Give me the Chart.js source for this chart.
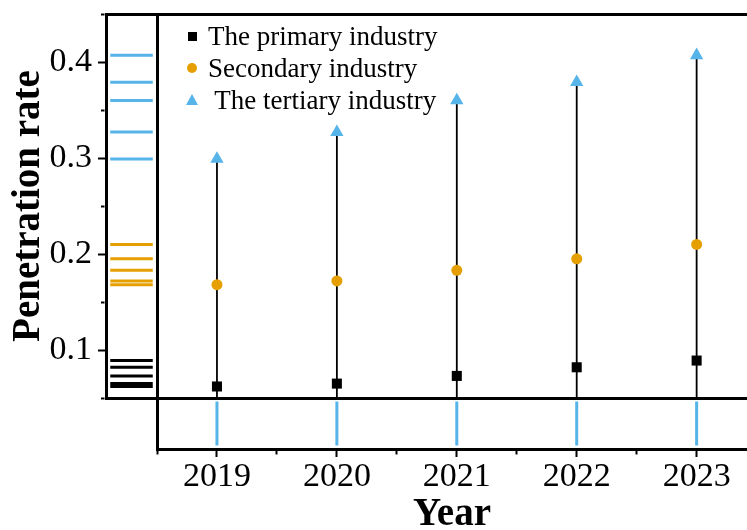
<!DOCTYPE html>
<html>
<head>
<meta charset="utf-8">
<title>Penetration rate by industry</title>
<script src="https://cdn.jsdelivr.net/npm/chart.js@4.4.1/dist/chart.umd.min.js"></script>
<style>
  body { margin: 0; background: #fff; }
  #wrap { position: relative; width: 747px; height: 530px; }
  #legend { position: absolute; left: 0; top: 0; font-family: 'Liberation Serif', serif; font-size: 27px; color: #000; }
  #legend .item { position: absolute; left: 208px; height: 32px; line-height: 32px; white-space: pre; }
  #legend .mark { position: absolute; }
</style>
</head>
<body>
<div id="wrap">
  <canvas id="chart" width="747" height="530"></canvas>
  <div id="legend"></div>
</div>
<script>
// data
const years = [2019, 2020, 2021, 2022, 2023];
const primary = [0.062, 0.065, 0.073, 0.082, 0.089];
const secondary = [0.168, 0.172, 0.183, 0.195, 0.210];
const tertiary = [0.299, 0.327, 0.360, 0.379, 0.407];
const seriesNames = ['The primary industry', 'Secondary industry', ' The tertiary industry'];
const seriesColors = ['#000000', '#E69F00', '#56B4E9'];
const yTickLabels = [0.1, 0.2, 0.3, 0.4];

// axis ranges
const yMin = 0.05, yMax = 0.45;
const xMin = 2018.5, xMax = 2023.42;

// fixed axis boxes so the side and bottom panels line up
const LEFT_W = 106, BOTTOM_H = 81;

const near = (a, b) => Math.abs(a - b) < 1e-6;
const isYMajor = v => yTickLabels.some(t => near(t, v));
const isXMajor = v => years.some(t => near(t, v));

const points = vals => years.map((x, i) => ({ x: x, y: vals[i] }));
// short horizontal strokes in the left margin panel, one per value
const rugY = vals => vals.flatMap(v => [{ x: 0, y: v }, { x: 1, y: v }, { x: 0.5, y: null }]);
// short vertical strokes in the bottom margin panel, one per year
const rugX = xs => xs.flatMap(x => [{ x: x, y: 0 }, { x: x, y: 1 }, { x: x, y: null }]);
// drop lines from the bottom of the plot up to the tertiary points
const drops = years.flatMap((x, i) => [{ x: x, y: yMin }, { x: x, y: tertiary[i] }, { x: x, y: null }]);

const lineSet = (data, color, width, xAxisID, yAxisID) => ({
  data: data, xAxisID: xAxisID, yAxisID: yAxisID,
  showLine: true, spanGaps: false, pointRadius: 0,
  borderColor: color, borderWidth: width, borderCapStyle: 'butt', order: 1
});

const markerSet = (i, vals, style, radius) => ({
  label: seriesNames[i], data: points(vals), xAxisID: 'x', yAxisID: 'y',
  pointStyle: style, pointRadius: radius,
  backgroundColor: seriesColors[i], borderWidth: 0, order: 0
});

Chart.defaults.font.family = "'Liberation Serif', serif";
Chart.defaults.color = '#000';

new Chart(document.getElementById('chart'), {
  type: 'scatter',
  data: {
    datasets: [
      markerSet(0, primary, 'rect', 7.1),
      markerSet(1, secondary, 'circle', 5.5),
      markerSet(2, tertiary, 'triangle', 7.7),
      lineSet(drops, '#000', 1.8, 'x', 'y'),
      lineSet(rugY(primary), seriesColors[0], 3, 'xRug', 'y'),
      lineSet(rugY(secondary), seriesColors[1], 3, 'xRug', 'y'),
      lineSet(rugY(tertiary), seriesColors[2], 3, 'xRug', 'y'),
      lineSet(rugX(years), seriesColors[2], 3, 'x', 'yRug')
    ]
  },
  options: {
    responsive: false,
    animation: false,
    devicePixelRatio: 1,
    events: [],
    layout: { autoPadding: false, padding: { top: 14, left: 0, right: 0, bottom: 0 } },
    plugins: { legend: { display: false }, tooltip: { enabled: false } },
    scales: {
      xRug: {
        type: 'linear', position: 'bottom', stack: 'h', stackWeight: 51, weight: 0,
        min: -0.1, max: 1.1, display: false,
        afterFit: s => { s.height = BOTTOM_H; }
      },
      x: {
        type: 'linear', position: 'bottom', stack: 'h', stackWeight: 590, weight: 1,
        min: xMin, max: xMax,
        afterFit: s => { s.height = BOTTOM_H; s.paddingLeft = 0; s.paddingRight = 0; },
        border: { display: true, color: '#000', width: 3 },
        grid: {
          color: c => (c.tick && near(c.tick.value, xMin)) ? '#000' : 'rgba(0,0,0,0)',
          lineWidth: 3,
          tickLength: 8,
          tickWidth: 2,
          tickColor: '#000',
          tickBorderDash: c => isXMajor(c.tick.value) ? [] : [3.5, 100],
          tickBorderDashOffset: 0
        },
        ticks: {
          stepSize: 0.5, includeBounds: false, autoSkip: false, maxRotation: 0,
          padding: 3, font: { size: 34, lineHeight: 1 },
          callback: v => isXMajor(v) ? String(Math.round(v)) : ''
        },
        title: {
          display: true, text: 'Year',
          font: { size: 39, weight: 'bold', lineHeight: 0.8 },
          padding: { top: 0, bottom: -1 }
        }
      },
      yRug: {
        type: 'linear', position: 'left', stack: 'v', stackWeight: 51, weight: 0,
        min: -0.08, max: 1.08, display: false,
        afterFit: s => { s.width = LEFT_W; }
      },
      y: {
        type: 'linear', position: 'left', stack: 'v', stackWeight: 384, weight: 1,
        min: yMin, max: yMax,
        afterFit: s => { s.width = LEFT_W; s.paddingTop = 0; s.paddingBottom = 0; },
        border: { display: true, color: '#000', width: 3 },
        grid: {
          color: c => (c.tick && (near(c.tick.value, yMin) || near(c.tick.value, yMax))) ? '#000' : 'rgba(0,0,0,0)',
          lineWidth: 3,
          tickLength: 8,
          tickWidth: 2,
          tickColor: '#000',
          tickBorderDash: c => isYMajor(c.tick.value) ? [] : [3.5, 3],
          tickBorderDashOffset: c => isYMajor(c.tick.value) ? 0 : 3.5
        },
        ticks: {
          stepSize: 0.05, includeBounds: false, autoSkip: false,
          padding: 6, font: { size: 34 },
          callback: v => isYMajor(v) ? v.toFixed(1) : ''
        },
        title: {
          display: true, text: 'Penetration rate',
          font: { size: 39, weight: 'bold', lineHeight: 0.8 },
          padding: { top: 13, bottom: 0 }
        }
      }
    }
  }
});

// legend in the upper left of the plot
const shapes = [
  { width: '9px', height: '9px', left: '-4.5px', top: '-4.5px' },
  { width: '10px', height: '10px', left: '-5px', top: '-5px', borderRadius: '50%' },
  { width: '0', height: '0', left: '-6.5px', top: '-6px', background: 'none',
    borderLeft: '6.5px solid transparent', borderRight: '6.5px solid transparent' }
];
const legendEl = document.getElementById('legend');
seriesNames.forEach((name, i) => {
  const cy = 36 + 32 * i;
  const mark = document.createElement('div');
  mark.className = 'mark';
  Object.assign(mark.style, shapes[i]);
  mark.style.left = (192 + parseFloat(shapes[i].left)) + 'px';
  mark.style.top = (cy + parseFloat(shapes[i].top)) + 'px';
  if (i === 2) mark.style.borderBottom = '11px solid ' + seriesColors[i];
  else mark.style.background = seriesColors[i];
  legendEl.appendChild(mark);
  const item = document.createElement('div');
  item.className = 'item';
  item.style.top = (cy - 16) + 'px';
  item.textContent = name;
  legendEl.appendChild(item);
});
</script>
</body>
</html>
